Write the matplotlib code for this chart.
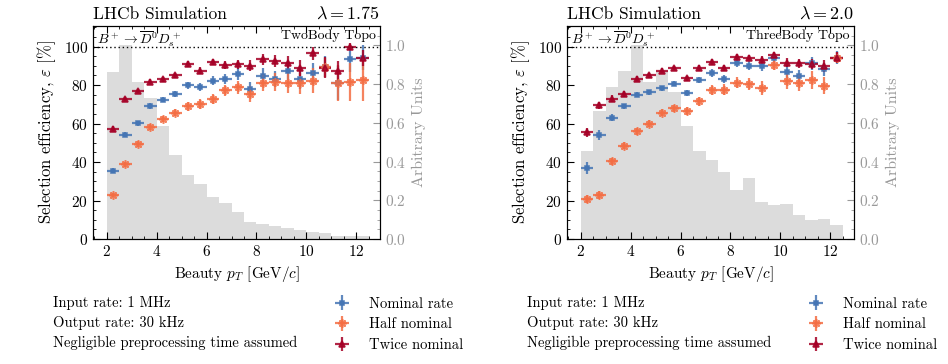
import numpy as np
import matplotlib
matplotlib.use("Agg")
import matplotlib.pyplot as plt
from matplotlib.ticker import AutoMinorLocator

plt.rcParams["font.family"] = "serif"
plt.rcParams["font.serif"] = ["cmr10"]
plt.rcParams["mathtext.fontset"] = "cm"
plt.rcParams["axes.formatter.use_mathtext"] = True
plt.rcParams["font.size"] = 10

# bins in beauty pT [GeV/c]
bin_edges = np.arange(2.0, 12.51, 0.5)
bin_centres = bin_edges[:-1] + 0.25

# --- left panel: TwoBody Topo, lambda = 1.75
hist_two = [0.862, 1.0, 0.813, 0.727, 0.585, 0.433, 0.329, 0.282, 0.215, 0.185, 0.138,
            0.087, 0.080, 0.066, 0.057, 0.045, 0.035, 0.031, 0.017, 0.017, 0.017]
nom_two = [35.6, 54.3, 60.2, 69.2, 72.5, 75.4, 79.9, 78.9, 82.2, 83.4, 85.8,
           78.2, 84.8, 83.2, 87.5, 83.2, 86.2, 89.6, 81.0, 93.8, 94.3]
nom_two_err = [1.2, 1.3, 1.3, 1.4, 1.5, 1.6, 1.8, 2.0, 2.3, 2.6, 3.0,
               3.5, 4.0, 4.3, 4.8, 5.0, 5.5, 5.5, 9.0, 7.0, 6.5]
half_two = [22.7, 38.8, 49.5, 58.0, 62.3, 65.7, 68.9, 70.2, 72.8, 77.2, 78.9,
            75.4, 81.3, 81.7, 81.1, 81.0, 82.2, 89.3, 81.0, 81.5, 82.4]
half_two_err = [1.0, 1.3, 1.5, 1.6, 1.7, 1.9, 2.2, 2.4, 2.8, 3.0, 3.3,
                4.2, 4.5, 4.8, 5.0, 5.5, 6.5, 5.0, 9.5, 10.0, 10.5]
twice_two = [57.4, 72.8, 77.0, 81.8, 83.0, 85.1, 90.8, 87.5, 92.0, 90.5, 90.8,
             90.0, 93.4, 92.6, 91.7, 88.8, 96.5, 89.1, 87.4, 100.0, 94.0]
twice_two_err = [1.2, 1.2, 1.2, 1.2, 1.2, 1.3, 1.5, 1.8, 1.8, 2.0, 2.3,
                 2.8, 3.0, 3.2, 3.3, 4.0, 3.5, 5.5, 5.0, 2.0, 4.0]

# --- right panel: ThreeBody Topo, lambda = 2.0
hist_three = [0.455, 0.663, 0.787, 0.870, 1.0, 0.813, 0.868, 0.761, 0.585, 0.455, 0.407,
              0.346, 0.253, 0.317, 0.190, 0.178, 0.180, 0.126, 0.100, 0.105, 0.074]
nom_three = [36.9, 54.2, 63.1, 68.9, 74.9, 76.3, 78.4, 80.6, 75.8, 82.7, 86.2,
             83.2, 91.7, 90.0, 89.8, 93.9, 86.7, 84.8, 91.3, 88.2, 94.3]
nom_three_err = [3.0, 2.5, 2.0, 1.5, 1.3, 1.3, 1.3, 1.3, 1.5, 1.7, 2.0,
                 2.2, 2.2, 2.3, 2.5, 2.5, 3.0, 3.2, 3.5, 3.5, 3.5]
half_three = [20.9, 23.0, 40.3, 48.4, 56.1, 59.9, 65.7, 68.0, 66.6, 71.5, 77.5,
              77.5, 81.3, 80.4, 78.4, 90.5, 82.0, 81.3, 82.7, 79.6, 94.3]
half_three_err = [2.0, 2.0, 2.0, 1.8, 1.8, 1.8, 1.8, 1.8, 2.0, 2.3, 2.5,
                  2.8, 3.0, 3.2, 3.5, 2.5, 4.0, 4.3, 4.5, 4.5, 3.0]
twice_three = [55.4, 69.6, 73.0, 75.3, 83.2, 85.1, 87.5, 88.8, 83.6, 88.8, 91.9,
               88.8, 94.8, 94.3, 93.1, 95.7, 91.7, 91.3, 91.0, 90.0, 94.3]
twice_three_err = [2.5, 1.8, 1.6, 1.4, 1.3, 1.2, 1.2, 1.2, 1.3, 1.4, 1.4,
                   1.6, 1.5, 1.5, 1.8, 1.5, 2.2, 2.5, 2.5, 3.0, 3.0]

series_labels = ["Nominal rate", "Half nominal", "Twice nominal"]
colours = ["#4575b4", "#f46d43", "#a50026"]
markers = ["s", (8, 2, 0), "^"]
msizes = [3.5, 6, 4.8]
info_lines = ["Input rate: 1 MHz", "Output rate: 30 kHz",
              "Negligible preprocessing time assumed"]

panels = [
    dict(x0=93, hist=hist_two, lam=r"$\lambda = 1.75$", topo="TwoBody Topo",
         series=[(nom_two, nom_two_err), (half_two, half_two_err), (twice_two, twice_two_err)]),
    dict(x0=567, hist=hist_three, lam=r"$\lambda = 2.0$", topo="ThreeBody Topo",
         series=[(nom_three, nom_three_err), (half_three, half_three_err), (twice_three, twice_three_err)]),
]

W, H = 948, 364
fig = plt.figure(figsize=(W / 100, H / 100), dpi=100)

for p in panels:
    ax = fig.add_axes([p["x0"] / W, (H - 239) / H, 287 / W, 213 / H])
    ax2 = ax.twinx()
    ax2.hist(bin_edges[:-1], bins=bin_edges, weights=p["hist"], histtype="stepfilled",
             color="#dcdcdc", linewidth=0)
    ax2.set_ylim(0, 1.1)
    ax2.set_yticks([0.0, 0.2, 0.4, 0.6, 0.8, 1.0])
    ax2.yaxis.set_minor_locator(AutoMinorLocator(4))
    ax2.tick_params(axis="y", which="both", direction="in", colors="#999999",
                    labelcolor="#999999", labelsize=11)
    ax2.tick_params(axis="y", which="major", length=5)
    ax2.tick_params(axis="y", which="minor", length=2.5)
    ax2.set_ylabel("Arbitrary Units", color="#999999", fontsize=11.5)
    ax.set_zorder(ax2.get_zorder() + 1)
    ax.patch.set_visible(False)

    handles = []
    for (vals, errs), c, m, ms in zip(p["series"], colours, markers, msizes):
        h = ax.errorbar(bin_centres, vals, xerr=0.25, yerr=errs, linestyle="none",
                        marker=m, ms=ms, color=c, ecolor=c, elinewidth=1.6,
                        markeredgewidth=1.2, alpha=0.85)
        handles.append(h)

    ax.axhline(100, color="black", linestyle=(0, (1, 2)), linewidth=1)
    ax.set_xlim(1.45, 12.95)
    ax.set_ylim(0, 110.7)
    ax.set_yticks([0, 20, 40, 60, 80, 100])
    ax.xaxis.set_minor_locator(AutoMinorLocator(4))
    ax.yaxis.set_minor_locator(AutoMinorLocator(4))
    ax.tick_params(which="both", direction="in", top=True, labelsize=11)
    ax.tick_params(which="major", length=5)
    ax.tick_params(which="minor", length=2.5)
    ax.set_xlabel(r"Beauty $p_T$ [GeV/$c$]", fontsize=11)
    ax.set_ylabel(r"Selection efficiency, $\varepsilon$ [%]", fontsize=12)

    ax.text(0.0, 1.02, "LHCb Simulation", transform=ax.transAxes, fontsize=12.5,
            ha="left", va="bottom")
    ax.text(1.0, 1.02, p["lam"], transform=ax.transAxes, fontsize=13,
            ha="right", va="bottom")
    ax.text(0.015, 0.985, r"$B^+ \to \overline{D}^0 D_s^+$", transform=ax.transAxes,
            ha="left", va="top", fontsize=10)
    ax.text(0.985, 0.985, p["topo"], transform=ax.transAxes, ha="right", va="top",
            fontsize=10)

    # info text and legend below the panel
    tx = (p["x0"] - 40) / W
    for i, line in enumerate(info_lines):
        fig.text(tx, 1 - (303 + 20 * i) / H, line, fontsize=10.5, va="center", ha="left")
    fig.legend(handles, series_labels, loc="upper left",
               bbox_to_anchor=((p["x0"] + 241.5) / W, 1 - 297 / H), frameon=False,
               fontsize=10.5, handlelength=1.0, handletextpad=1.35, labelspacing=0.48,
               borderpad=0, borderaxespad=0)

fig.savefig("out.png", dpi=100)
